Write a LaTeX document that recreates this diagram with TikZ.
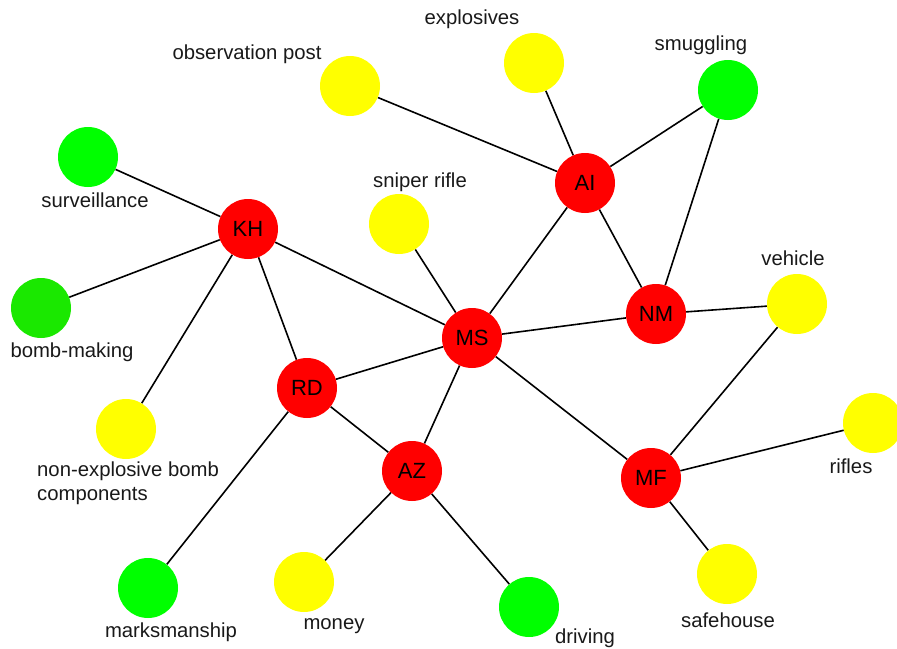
\documentclass[tikz,border=0pt]{standalone}
\usepackage{fontspec}
\setmainfont{Liberation Sans}
\usetikzlibrary{backgrounds}
\definecolor{cred}{RGB}{255,0,0}
\definecolor{cyel}{RGB}{255,255,0}
\definecolor{cgrn}{RGB}{0,255,0}
\definecolor{cgrnd}{RGB}{26,232,0}
\tikzset{
  vtx/.style={circle,minimum size=60pt,inner sep=0pt,draw=none},
  rednode/.style={vtx,fill=cred,font=\fontsize{22}{26}\selectfont},
  yelnode/.style={vtx,fill=cyel},
  grnnode/.style={vtx,fill=cgrn},
  lbl/.style={font=\fontsize{20.3}{24}\selectfont,inner sep=0pt,text=black!90},
  edge/.style={draw=black,line width=1.6pt}
}
\begin{document}
\begin{tikzpicture}[x=1pt,y=-1pt]
\useasboundingbox (0,0) rectangle (897,648);
% red nodes
\node[rednode] (AI) at (585,183) {AI};
\node[rednode] (KH) at (248,229) {KH};
\node[rednode] (MS) at (472,338) {MS};
\node[rednode] (NM) at (656,314) {NM};
\node[rednode] (RD) at (307,388) {RD};
\node[rednode] (AZ) at (412,471) {AZ};
\node[rednode] (MF) at (651,478) {MF};
% yellow nodes
\node[yelnode] (op) at (350,86) {};
\node[yelnode] (ex) at (534,63) {};
\node[yelnode] (sr) at (399,224) {};
\node[yelnode] (ve) at (797,304) {};
\node[yelnode] (nb) at (126,429) {};
\node[yelnode] (ri) at (873,423) {};
\node[yelnode] (mo) at (304,582) {};
\node[yelnode] (sh) at (727,574) {};
% green nodes
\node[grnnode] (sm) at (728,90) {};
\node[grnnode] (su) at (88,157) {};
\node[vtx,fill=cgrnd] (bm) at (41,308) {};
\node[grnnode] (mk) at (148,588) {};
\node[grnnode] (dr) at (529,607) {};
% labels
\node[lbl] (Lex) at (472,19) {explosives};
\node[lbl] (Lop) at (247,54) {observation post};
\node[lbl] (Lsm) at (701,45) {smuggling};
\node[lbl] (Lsu) at (95,200) {surveillance};
\node[lbl] (Lsr) at (420,182) {sniper rifle};
\node[lbl] (Lve) at (793,258) {vehicle};
\node[lbl] (Lbm) at (72,352) {bomb-making};
\node[lbl,anchor=north west,align=left] (Lnb) at (37,462) {non-explosive bomb\\[-0.5pt]components};
\node[lbl] (Lri) at (851,466) {rifles};
\node[lbl] (Lmk) at (171,632) {marksmanship};
\node[lbl] (Lmo) at (334,626) {money};
\node[lbl] (Ldr) at (585,638) {driving};
\node[lbl] (Lsh) at (728,620) {safehouse};
% edges
\begin{scope}[on background layer]
\draw[edge] (op) -- (AI);
\draw[edge] (ex) -- (AI);
\draw[edge] (AI) -- (sm);
\draw[edge] (AI) -- (NM);
\draw[edge] (sm) -- (NM);
\draw[edge] (AI) -- (MS);
\draw[edge] (su) -- (KH);
\draw[edge] (bm) -- (KH);
\draw[edge] (KH) -- (MS);
\draw[edge] (KH) -- (RD);
\draw[edge] (KH) -- (nb);
\draw[edge] (sr) -- (MS);
\draw[edge] (MS) -- (NM);
\draw[edge] (NM) -- (ve);
\draw[edge] (MS) -- (RD);
\draw[edge] (MS) -- (AZ);
\draw[edge] (MS) -- (MF);
\draw[edge] (RD) -- (AZ);
\draw[edge] (RD) -- (mk);
\draw[edge] (AZ) -- (mo);
\draw[edge] (AZ) -- (dr);
\draw[edge] (MF) -- (ve);
\draw[edge] (MF) -- (ri);
\draw[edge] (MF) -- (sh);
\end{scope}
\end{tikzpicture}
\end{document}
